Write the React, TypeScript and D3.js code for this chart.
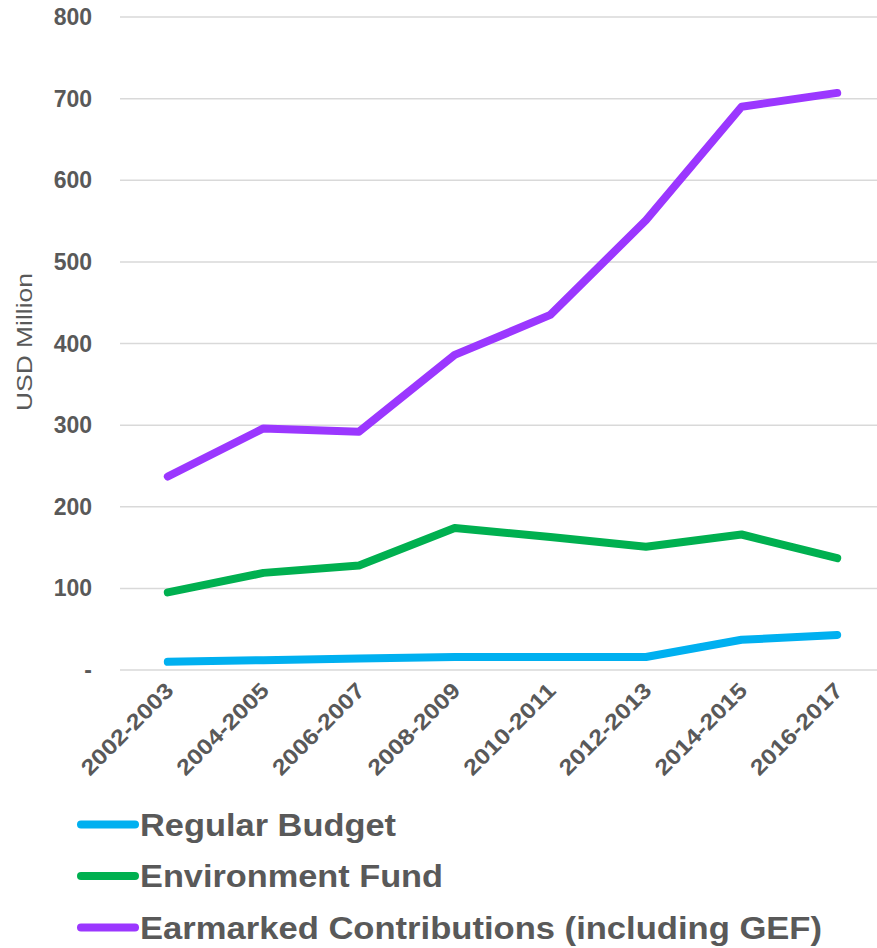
import React from 'react';
import * as d3 from 'd3';

const periods = ['2002-2003', '2004-2005', '2006-2007', '2008-2009', '2010-2011', '2012-2013', '2014-2015', '2016-2017'];
const regularBudget = [10, 12, 14, 16, 16, 16, 37, 43];
const environmentFund = [95, 119, 128, 174, 163, 151, 166, 137];
const earmarked = [237, 296, 292, 386, 435, 551, 690, 707];
const yTicks = [0, 100, 200, 300, 400, 500, 600, 700, 800];

const series = [
  { name: 'Regular Budget', values: regularBudget, color: '#00B0F0', len: 256 },
  { name: 'Environment Fund', values: environmentFund, color: '#00B050', len: 303 },
  { name: 'Earmarked Contributions (including GEF)', values: earmarked, color: '#9B37FF', len: 682 },
];

const W = 877, H = 948;
const FONT = 'Arial, "Liberation Sans", sans-serif';
const TXT = '#595959';

export default function App() {
  const x = d3.scalePoint<string>().domain(periods).range([120, 885]).padding(0.5);
  const y = d3.scaleLinear().domain([0, 800]).range([670, 17]);
  const line = d3.line<number>()
    .x((_, i) => x(periods[i]) as number)
    .y(d => y(d));

  return (
    <svg width={W} height={H} style={{ position: 'absolute', left: 0, top: 0, background: '#fff' }} fontFamily={FONT}>
      {/* grid + y labels */}
      {yTicks.map(t => (
        <g key={t}>
          <line x1={120} x2={W} y1={y(t)} y2={y(t)} stroke="#d9d9d9" strokeWidth={1.5} />
          <text x={92} y={y(t)} dy="0.35em" textAnchor="end" fontSize={23} fontWeight="bold" fill={TXT}>
            {t === 0 ? '-' : t}
          </text>
        </g>
      ))}
      <text transform={`translate(32,342) rotate(-90)`} textAnchor="middle" fontSize={22}
        textLength={138} lengthAdjust="spacingAndGlyphs" fill={TXT}>USD Million</text>

      {/* x labels */}
      {periods.map(p => (
        <text key={p} transform={`translate(${(x(p) as number) + 7},${692}) rotate(-45)`} textAnchor="end"
          fontSize={22} fontWeight="bold" textLength={120} lengthAdjust="spacingAndGlyphs" fill={TXT}>{p}</text>
      ))}

      {/* lines */}
      {series.map(s => (
        <path key={s.name} d={line(s.values) ?? ''} fill="none" stroke={s.color} strokeWidth={8}
          strokeLinecap="round" strokeLinejoin="round" />
      ))}

      {/* legend */}
      {series.map((s, i) => {
        const ly = 824.5 + i * 51.5;
        return (
          <g key={s.name}>
            <line x1={81} x2={135} y1={ly} y2={ly} stroke={s.color} strokeWidth={8} strokeLinecap="round" />
            <text x={140} y={ly + 11} fontSize={32} fontWeight="bold" textLength={s.len}
              lengthAdjust="spacingAndGlyphs" fill={TXT}>{s.name}</text>
          </g>
        );
      })}
    </svg>
  );
}
